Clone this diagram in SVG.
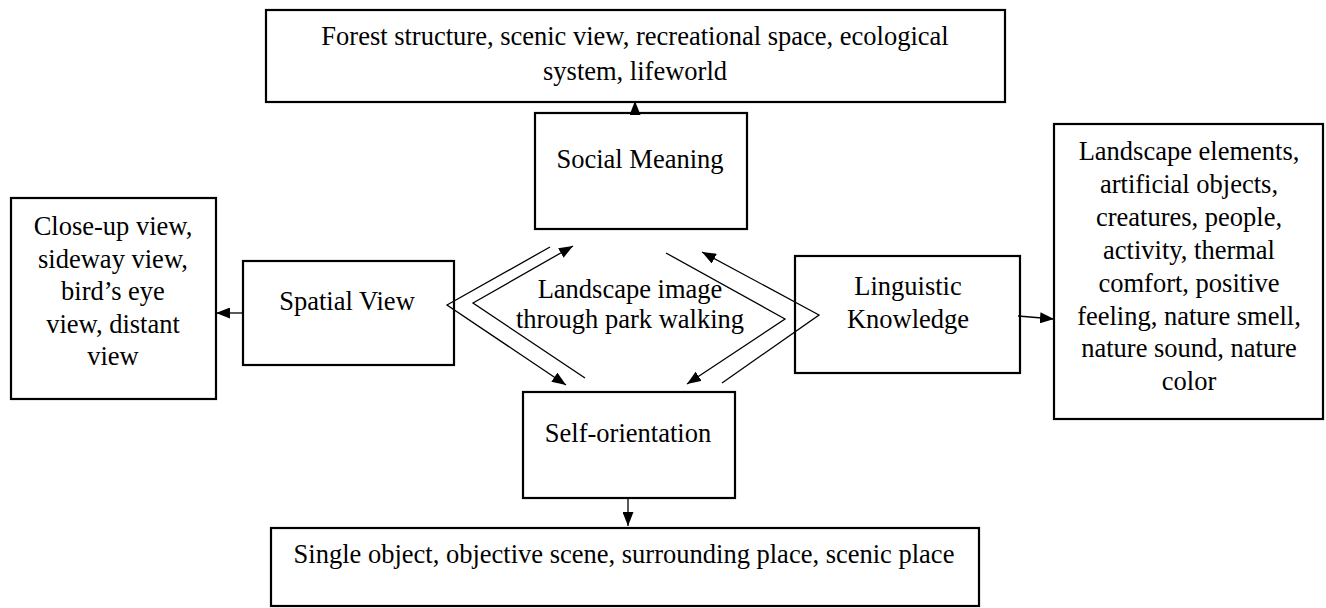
<svg xmlns="http://www.w3.org/2000/svg" width="1326" height="608" viewBox="0 0 1326 608">
  <style>
    .box { fill: #fff; stroke: #000; stroke-width: 2.2; }
    .lbl { font-family: "Liberation Serif", "Times New Roman", serif; font-size: 26.5px; fill: #000; text-anchor: middle; }
    .con { fill: none; stroke: #000; stroke-width: 1.3; }
  </style>
  <defs>
    <marker id="ah" viewBox="0 0 14 11" refX="14" refY="5.5" markerWidth="14" markerHeight="11" markerUnits="userSpaceOnUse" orient="auto">
      <path d="M0,0 L14,5.5 L0,11 Z" fill="#000"/>
    </marker>
  </defs>

  <g id="social-outcomes">
    <rect class="box" x="266" y="10" width="739" height="92"/>
    <text class="lbl" x="635" y="45">Forest structure, scenic view, recreational space, ecological</text>
    <text class="lbl" x="635" y="80">system, lifeworld</text>
  </g>

  <g id="social-meaning">
    <rect class="box" x="535" y="113" width="212" height="116"/>
    <text class="lbl" x="640" y="168">Social Meaning</text>
  </g>

  <g id="view-types">
    <rect class="box" x="11" y="198" width="205" height="201"/>
    <text class="lbl" x="113" y="235">Close-up view,</text>
    <text class="lbl" x="113" y="268">sideway view,</text>
    <text class="lbl" x="113" y="300">bird’s eye</text>
    <text class="lbl" x="113" y="333">view, distant</text>
    <text class="lbl" x="113" y="365">view</text>
  </g>

  <g id="spatial-view">
    <rect class="box" x="243" y="261" width="211" height="104"/>
    <text class="lbl" x="347" y="310">Spatial View</text>
  </g>

  <g id="linguistic-knowledge">
    <rect class="box" x="795" y="256" width="225" height="117"/>
    <text class="lbl" x="908" y="295">Linguistic</text>
    <text class="lbl" x="908" y="328">Knowledge</text>
  </g>

  <g id="linguistic-items">
    <rect class="box" x="1054" y="124" width="269" height="295"/>
    <text class="lbl" x="1189" y="160">Landscape elements,</text>
    <text class="lbl" x="1189" y="193">artificial objects,</text>
    <text class="lbl" x="1189" y="226">creatures, people,</text>
    <text class="lbl" x="1189" y="259">activity, thermal</text>
    <text class="lbl" x="1189" y="292">comfort, positive</text>
    <text class="lbl" x="1189" y="325">feeling, nature smell,</text>
    <text class="lbl" x="1189" y="357">nature sound, nature</text>
    <text class="lbl" x="1189" y="390">color</text>
  </g>

  <g id="self-orientation">
    <rect class="box" x="523" y="392" width="212" height="106"/>
    <text class="lbl" x="628" y="442">Self-orientation</text>
  </g>

  <g id="place-types">
    <rect class="box" x="271" y="528" width="708" height="78"/>
    <text class="lbl" x="624" y="563">Single object, objective scene, surrounding place, scenic place</text>
  </g>

  <g id="center-label">
    <text class="lbl" x="630" y="298">Landscape image</text>
    <text class="lbl" x="630" y="328">through park walking</text>
  </g>

  <g id="connectors">
    <line class="con" x1="635" y1="113" x2="635" y2="101" marker-end="url(#ah)"/>
    <line class="con" x1="243" y1="313" x2="216" y2="313" marker-end="url(#ah)"/>
    <line class="con" x1="1018" y1="316" x2="1054" y2="319" marker-end="url(#ah)"/>
    <line class="con" x1="628" y1="498" x2="628" y2="526" marker-end="url(#ah)"/>
    <!-- left chevron pair -->
    <polyline class="con" points="550,247 447,305 566,385" marker-end="url(#ah)"/>
    <polyline class="con" points="585,378 473,303 573,246" marker-end="url(#ah)"/>
    <!-- right chevron pair -->
    <polyline class="con" points="722,383 819,315 702,252" marker-end="url(#ah)"/>
    <polyline class="con" points="666,253 785,319 687,384" marker-end="url(#ah)"/>
  </g>
</svg>
